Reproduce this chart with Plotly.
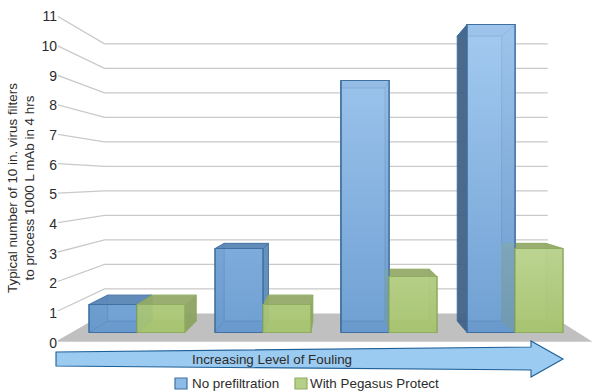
import plotly.graph_objects as go

# ---- data ----
fouling_groups = [0, 1, 2, 3]
no_prefiltration = [1, 3, 9, 11]
with_pegasus = [1, 1, 2, 3]
y_ticks = list(range(0, 12))
title_y = "Typical number of 10 in. virus filters<br>to process 1000 L mAb in 4 hrs"
arrow_label = "Increasing Level of Fouling"
names = ["No prefiltration", "With Pegasus Protect"]

# ---- page geometry ----
W, H = 603, 392
L = 58
X0_PX, X_UNIT = 137.0, 126.0      # px of group 0, px per group
Y0_PX, Y_UNIT = 332.5, 28.0       # px of value 0 on bar front plane, px per unit
BAR_W = 0.38

# ---- pseudo 3D projection in data units ----
VX, VY = 1.58, 5.45               # vanishing point
S_FRONT, S_BAR_BACK, S_WALL = 1.06, 0.925, 0.875
WALL_LEFT, WALL_RIGHT = -0.52, 3.5


def prj(x, v, s=1.0):
    return VX + (x - VX) * s, VY + (v - VY) * s


def px(xp):
    return (xp - L) / (W - L)


def py(yp):
    return 1 - yp / H


STY = {
    "blue": dict(base="#8cbbe8", lo="rgba(101,150,203,0.74)", hi="rgba(172,208,244,0.74)",
                 edge="#3f70a0", side="rgba(88,136,186,0.92)", dark="rgba(66,98,134,0.95)",
                 topc="rgba(88,134,182,0.95)", inner="rgba(60,100,150,0.28)",
                 thin="rgba(60,105,155,0.6)", stop=11),
    "green": dict(base="#b5cf86", lo="rgba(167,196,112,0.91)", hi="rgba(196,218,158,0.91)",
                  edge="#8fad60", side="rgba(140,163,98,0.95)", dark="rgba(140,163,98,0.95)",
                  topc="rgba(147,170,104,0.95)", inner="rgba(100,125,60,0.22)",
                  thin="rgba(120,145,80,0.6)", stop=4),
}

fig = go.Figure()

# bars (base of every front face)
for name, vals, off, key in zip(names, [no_prefiltration, with_pegasus], [-BAR_W / 2, BAR_W / 2], ["blue", "green"]):
    fig.add_bar(x=[g + off for g in fouling_groups], y=vals, width=BAR_W, name=name, showlegend=False,
                marker=dict(color=STY[key]["base"], line=dict(color=STY[key]["edge"], width=1.2)))


def face(points, fill, line, lw=0.8):
    xs, ys = zip(*points)
    fig.add_scatter(x=list(xs) + [xs[0]], y=list(ys) + [ys[0]], mode="lines", fill="toself",
                    fillcolor=fill, line=dict(color=line, width=lw), hoverinfo="skip", showlegend=False)


def bar_box(g, off, v, key):
    """side, back and top faces of one bar"""
    st = STY[key]
    x1, x2 = g + off - BAR_W / 2, g + off + BAR_W / 2
    b = S_BAR_BACK
    # back wall and floor of the box
    face([prj(x1, 0, b), prj(x2, 0, b), prj(x2, v, b), prj(x1, v, b)], "rgba(0,0,0,0)", st["thin"])
    face([prj(x1, 0), prj(x2, 0), prj(x2, 0, b), prj(x1, 0, b)], st["inner"], st["thin"])
    # left
    outside = x1 > VX
    face([prj(x1, 0), prj(x1, v), prj(x1, v, b), prj(x1, 0, b)],
         st["dark"] if outside else st["inner"], st["edge"] if outside else st["thin"])
    # right
    outside = x2 < VX
    face([prj(x2, 0), prj(x2, v), prj(x2, v, b), prj(x2, 0, b)],
         st["side"] if outside else st["inner"], st["edge"] if outside else st["thin"])
    # top
    outside = v < VY
    face([prj(x1, v), prj(x2, v), prj(x2, v, b), prj(x1, v, b)],
         st["topc"] if outside else st["inner"], st["edge"])


def bar_front(g, off, v, key):
    st = STY[key]
    x1, x2 = g + off - BAR_W / 2, g + off + BAR_W / 2
    fig.add_scatter(x=[x1, x2, x2, x1, x1], y=[0, 0, v, v, 0], mode="lines", fill="toself",
                    fillgradient=dict(type="vertical", start=0, stop=st["stop"],
                                      colorscale=[[0, st["lo"]], [1, st["hi"]]]),
                    line=dict(color=st["edge"], width=1.2), hoverinfo="skip", showlegend=False)


for i, g in enumerate(fouling_groups):
    bar_box(g, -BAR_W / 2, no_prefiltration[i], "blue")
    bar_box(g, BAR_W / 2, with_pegasus[i], "green")
    bar_front(g, -BAR_W / 2, no_prefiltration[i], "blue")
    bar_front(g, BAR_W / 2, with_pegasus[i], "green")

# floor and walls, projected from the axis values
shapes = []
fl = [prj(WALL_LEFT, 0, S_FRONT), prj(WALL_RIGHT, 0, S_FRONT), prj(WALL_RIGHT, 0, S_WALL), prj(WALL_LEFT, 0, S_WALL)]
shapes.append(dict(type="path", xref="x", yref="y", layer="below", line=dict(width=0), fillcolor="#c1c0c0",
                   path="M" + " L".join(f"{a},{b}" for a, b in fl) + " Z"))
GRID = dict(color="#c9c9c9", width=1.3)
for t in y_ticks[1:]:
    a = prj(WALL_LEFT, t, S_FRONT)
    b = prj(WALL_LEFT, t, S_WALL)
    c = prj(WALL_RIGHT, t, S_WALL)
    shapes.append(dict(type="path", xref="x", yref="y", layer="below", line=GRID,
                       path=f"M{a[0]},{a[1]} L{b[0]},{b[1]} L{c[0]},{c[1]}"))

# arrow
arrow_pts = [(56, 352), (531, 347), (531, 341), (563, 359), (531, 377), (531, 370), (56, 366)]
shapes.append(dict(type="path", xref="paper", yref="paper", layer="above",
                   line=dict(color="#1d5f97", width=1.1), fillcolor="#9ccbf1",
                   path="M" + " L".join(f"{px(a)},{py(b)}" for a, b in arrow_pts) + " Z"))

# legend: swatch rectangles with real text beside them
legend_items = [(175, 190, "blue"), (295, 308, "green")]
annotations = [
    dict(text=title_y, xref="paper", yref="paper", x=px(21), y=py(188), textangle=-90, showarrow=False,
         font=dict(size=13.4, color="#2b2b2b"), xanchor="center", yanchor="middle"),
    dict(text=arrow_label, xref="paper", yref="paper", x=px(272), y=py(359), showarrow=False,
         font=dict(size=13.4, color="#2b2b2b"), xanchor="center", yanchor="middle"),
]
for (sw_x, tx_x, key), name in zip(legend_items, names):
    shapes.append(dict(type="rect", xref="paper", yref="paper", layer="above",
                       x0=px(sw_x), x1=px(sw_x + 12), y0=py(389), y1=py(378),
                       line=dict(color=STY[key]["edge"], width=1.2), fillcolor=STY[key]["base"]))
    annotations.append(dict(text=name, xref="paper", yref="paper", x=px(tx_x), y=py(383.5), showarrow=False,
                            xanchor="left", yanchor="middle", font=dict(size=13.4, color="#2b2b2b")))

tick_y = [prj(WALL_LEFT, t, S_FRONT)[1] - 0.04 for t in y_ticks]

fig.update_layout(
    width=W, height=H, margin=dict(l=L, r=0, t=0, b=0), autosize=False, showlegend=False,
    paper_bgcolor="white", plot_bgcolor="white",
    font=dict(family="Liberation Sans, Arial, sans-serif", color="#2b2b2b", size=13),
    barmode="overlay", shapes=shapes, annotations=annotations,
    xaxis=dict(visible=False, range=[(L - X0_PX) / X_UNIT, (W - X0_PX) / X_UNIT], fixedrange=True),
    yaxis=dict(range=[(Y0_PX - H) / Y_UNIT, Y0_PX / Y_UNIT], tickmode="array", tickvals=tick_y,
               ticktext=[str(t) for t in y_ticks], showgrid=False, zeroline=False, showline=False,
               ticks="", tickfont=dict(size=14, color="#2b2b2b"), fixedrange=True),
)

fig.write_html("out.html", config={"displayModeBar": False}, post_script="document.body.style.margin='0';")
